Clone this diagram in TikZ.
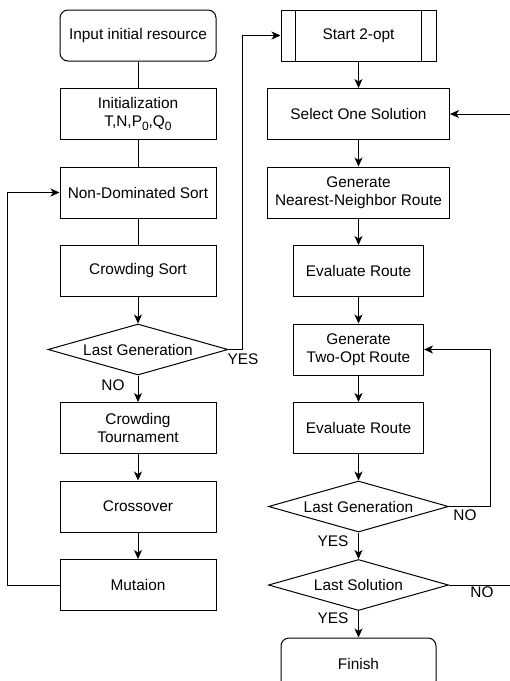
\documentclass[tikz,border=0pt]{standalone}
\usepackage{fontspec}
\setmainfont{Liberation Sans}
\usetikzlibrary{arrows.meta,positioning,shapes.geometric}

\newcommand{\lowsub}[1]{\raisebox{-3.5pt}{\fontsize{12}{12}\selectfont #1}}

\begin{document}
\begin{tikzpicture}[
  x=1pt,y=1pt,
  node distance=26.5pt,
  font=\fontsize{15.4}{18}\selectfont,
  n/.style={rectangle,draw,line width=1pt,minimum width=156pt,minimum height=51pt,inner sep=2pt,align=center},
  r/.style={n,rounded corners=8pt},
  d/.style={diamond,draw,line width=1pt,minimum width=180pt,minimum height=51pt,aspect=3.5,inner sep=0pt,align=center},
  a/.style={-{Stealth[length=9pt,width=8pt,inset=2.5pt]},line width=1pt},
  ln/.style={line width=1pt},
  lbl/.style={inner sep=0pt}
]
\useasboundingbox (0,0) rectangle (510,-681);
\begin{scope}
\clip (0,0) rectangle (510,-681);
% left column
\node[r] (inp) at (138,-35.5) {Input initial resource};
\node[n,below=of inp] (init) {Initialization\\T,N,P\lowsub{0},Q\lowsub{0}};
\node[n,below=of init] (nds) {Non-Dominated Sort};
\node[n,below=of nds] (cs) {Crowding Sort};
\node[d,below=of cs] (lg1) {Last Generation};
\node[n,below=of lg1] (ct) {Crowding\\Tournament};
\node[n,below=of ct] (cross) {Crossover};
\node[n,below=of cross] (mut) {Mutaion};
% right column
\node[n,minimum width=155pt] (start) at (358.5,-35.5) {Start 2-opt};
\draw[ln] ([xshift=15pt]start.north west) -- ([xshift=15pt]start.south west);
\draw[ln] ([xshift=-15pt]start.north east) -- ([xshift=-15pt]start.south east);
\node[n,minimum width=182pt,below=of start] (sel) {Select One Solution};
\node[n,minimum width=182pt,below=of sel] (nn) {Generate\\Nearest-Neighbor Route};
\node[n,minimum width=130pt,below=of nn] (ev1) {Evaluate Route};
\node[n,minimum width=130pt,below=of ev1] (two) {Generate\\Two-Opt Route};
\node[n,minimum width=130pt,below=of two] (ev2) {Evaluate Route};
\node[d,below=of ev2] (lg2) {Last Generation};
\node[d,below=of lg2] (ls) {Last Solution};
\node[r,minimum width=155pt,below=of ls] (fin) {Finish};
% connectors
\draw[ln] (inp) -- (init);
\draw[ln] (init) -- (nds);
\draw[ln] (nds) -- (cs);
\draw[a] (cs) -- (lg1);
\draw[a] (lg1) -- (ct);
\draw[a] (ct) -- (cross);
\draw[a] (cross) -- (mut);
\draw[a] (mut.west) -- ++(-52,0) |- (nds.west);
\draw[a] (lg1.east) -- ++(14,0) |- (start.west);
\draw[a] (start) -- (sel);
\draw[a] (sel) -- (nn);
\draw[a] (nn) -- (ev1);
\draw[a] (ev1) -- (two);
\draw[a] (two) -- (ev2);
\draw[a] (ev2) -- (lg2);
\draw[a] (lg2) -- (ls);
\draw[a] (ls) -- (fin);
\draw[a] (lg2.east) -- ++(41,0) |- (two.east);
\draw[a] (ls.east) -- ++(75,0) |- (sel.east);
% labels
\node[lbl] (yes1) at (243,-359) {YES};
\node[lbl] (no1) at (113,-385) {NO};
\node[lbl] (no2) at (465,-515) {NO};
\node[lbl] (yes2) at (333,-541) {YES};
\node[lbl] (no3) at (482,-592) {NO};
\node[lbl] (yes3) at (333,-618) {YES};
\end{scope}
\end{tikzpicture}
\end{document}
